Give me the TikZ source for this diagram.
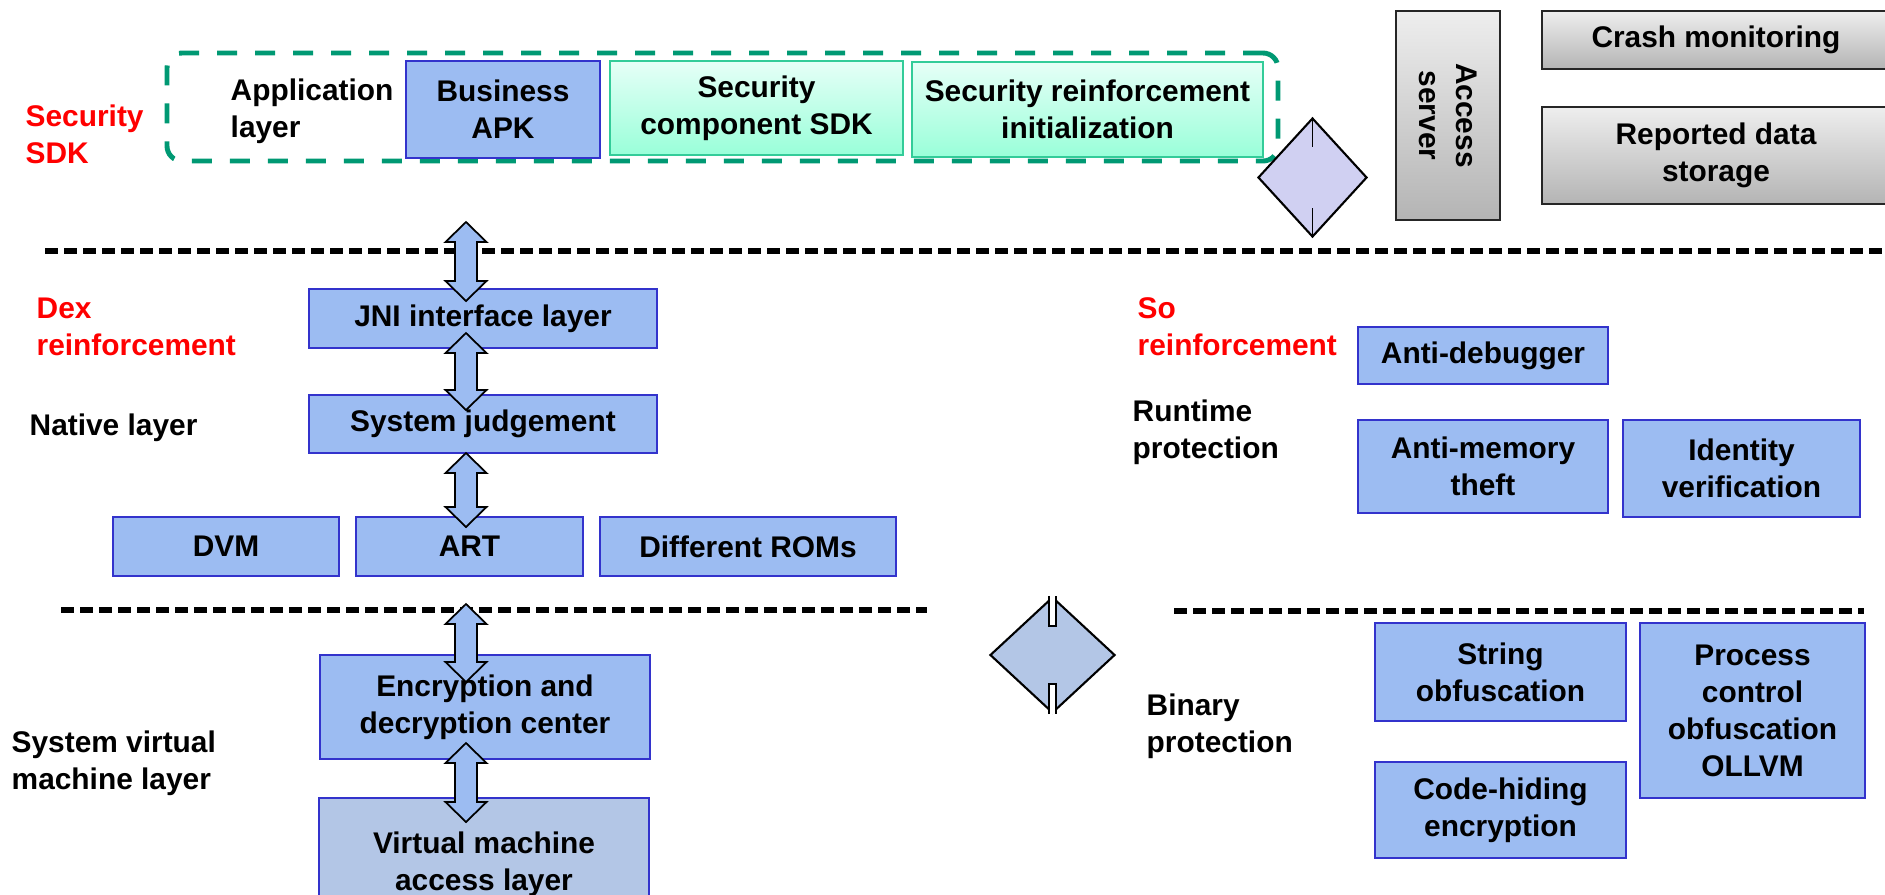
\documentclass[tikz,border=0pt]{standalone}
\usepackage{fontspec}
\setmainfont{Liberation Sans}
\usetikzlibrary{shapes.geometric}

\definecolor{blkfill}{HTML}{9CBCF2}
\definecolor{blkedge}{HTML}{3333CC}
\definecolor{vmfill}{HTML}{B3C6E6}
\definecolor{gatefill}{HTML}{D0D0F2}
\definecolor{grntop}{HTML}{E6FFF7}
\definecolor{grnbot}{HTML}{99FFD9}
\definecolor{grnedge}{HTML}{33CC99}
\definecolor{sdkgreen}{HTML}{009973}
\definecolor{grytop}{HTML}{EEEEEE}
\definecolor{grybot}{HTML}{B4B4B4}
\definecolor{secred}{HTML}{FF0000}

\tikzset{
    txt/.style={font=\fontsize{8.5}{10.5}\selectfont\bfseries, align=left, anchor=west, inner sep=0pt},
    redtxt/.style={txt, text=secred},
    blk/.style={draw=blkedge, fill=blkfill, line width=0.6pt, inner sep=0pt, align=center,
        font=\fontsize{8.5}{10.5}\selectfont\bfseries},
    grn/.style={blk, draw=grnedge, top color=grntop, bottom color=grnbot},
    gry/.style={blk, draw=black!85, top color=grytop, bottom color=grybot},
    sdkframe/.style={draw=sdkgreen, line width=1.4pt, dash pattern=on 0.2cm off 0.18cm,
        rounded corners=0.15cm},
    sep/.style={black, line width=1.6pt, dash pattern=on 0.13cm off 0.06cm},
    blockarr/.style={draw, fill=blkfill, line width=0.5pt, line join=miter},
    gate/.style={diamond, draw, inner sep=0pt, line width=0.6pt}
}

\begin{document}
\begin{tikzpicture}[x=1cm, y=-1cm]
    \useasboundingbox (0,0) rectangle (18.85,8.94);
    % top: application layer and server side
    \path node[sdkframe, minimum width=11.11cm, minimum height=1.08cm] (sdk) at (7.225,1.07) {}
        node[redtxt] (secsdk) at (0.25,1.345) {Security\\SDK}
        node[txt] (applbl) at (2.30,1.115) {Application\\layer}
        node[blk, minimum width=1.94cm, minimum height=0.97cm] (apk) at (5.03,1.095) {Business\\APK}
        node[grn, minimum width=2.93cm, minimum height=0.94cm] (compsdk) at (7.565,1.08) {Security\\component SDK}
        node[grn, minimum width=3.51cm, minimum height=0.95cm] (init) at (10.875,1.095) {Security reinforcement\\initialization}
        node[gate, fill=gatefill, minimum width=1.09cm, minimum height=1.19cm] (topgate) at (13.125,1.775) {}
        node[gry, rotate=-90, minimum width=2.09cm, minimum height=1.04cm] (server) at (14.48,1.155) {Access\\server}
        node[gry, minimum width=3.48cm, minimum height=0.58cm] (crash) at (17.16,0.40) {Crash monitoring}
        node[gry, minimum width=3.48cm, minimum height=0.97cm] (store) at (17.16,1.555) {Reported data\\storage};
    \draw (topgate.north) -- ++(0,0.30);
    \draw (topgate.south) -- ++(0,-0.30);

    \draw[sep] (0.45,2.51) -- (18.85,2.51);

    % dex reinforcement
    \path node[redtxt] (dexlbl) at (0.36,3.27) {Dex\\reinforcement}
        node[txt] (nativelbl) at (0.29,4.28) {Native layer}
        node[blk, minimum width=3.48cm, minimum height=0.59cm] (jni) at (4.83,3.185) {JNI interface layer}
        node[blk, minimum width=3.48cm, minimum height=0.58cm] (judge) at (4.83,4.24) {System judgement}
        node[blk, minimum width=2.26cm, minimum height=0.59cm] (dvm) at (2.26,5.465) {DVM}
        node[blk, minimum width=2.27cm, minimum height=0.59cm] (art) at (4.695,5.465) {ART}
        node[blk, minimum width=2.96cm, minimum height=0.59cm] (roms) at (7.48,5.465) {Different ROMs};

    % so reinforcement
    \path node[redtxt] (solbl) at (11.37,3.265) {So\\reinforcement}
        node[txt] (runlbl) at (11.32,4.325) {Runtime\\protection}
        node[blk, minimum width=2.50cm, minimum height=0.57cm] (antidbg) at (14.83,3.555) {Anti-debugger}
        node[blk, minimum width=2.50cm, minimum height=0.93cm] (antimem) at (14.83,4.665) {Anti-memory\\theft}
        node[blk, minimum width=2.37cm, minimum height=0.97cm] (ident) at (17.415,4.685) {Identity\\verification};

    \draw[sep] (0.61,6.10) -- (9.27,6.10);
    \draw[sep] (11.74,6.11) -- (18.64,6.11);

    % system virtual machine layer
    \path node[txt] (svmlbl) at (0.11,7.635) {System virtual\\machine layer}
        node[blk, minimum width=3.30cm, minimum height=1.04cm] (enc) at (4.85,7.07) {Encryption and\\decryption center}
        node[blk, fill=vmfill, minimum width=3.30cm, minimum height=1.32cm] (vm) at (4.84,8.64) {Virtual machine\\access layer};

    % binary protection
    \path node[gate, fill=vmfill, minimum width=1.25cm, minimum height=1.16cm] (midgate) at (10.525,6.55) {}
        node[txt] (binlbl) at (11.46,7.265) {Binary\\protection}
        node[blk, minimum width=2.51cm, minimum height=0.98cm] (strobf) at (15.005,6.72) {String\\obfuscation}
        node[blk, minimum width=2.51cm, minimum height=0.96cm] (codehide) at (15.005,8.10) {Code-hiding\\encryption}
        node[blk, minimum width=2.25cm, minimum height=1.75cm] (ollvm) at (17.525,7.105) {Process\\control\\obfuscation\\OLLVM};
    \draw[fill=white, line width=0.5pt] ([xshift=-0.35mm]midgate.north) -- ++(0,0.30) -- ++(0.07,0) -- ++(0,-0.30);
    \draw[fill=white, line width=0.5pt] ([xshift=-0.35mm]midgate.south) -- ++(0,-0.30) -- ++(0.07,0) -- ++(0,0.30);

    % two-way arrows between the layers
    \foreach \ya/\yb in {2.22/3.01, 3.33/4.10, 4.53/5.27, 6.04/6.82, 7.43/8.22}
        \draw[blockarr] (4.66,\ya) -- (4.865,{\ya+0.2}) -- (4.77,{\ya+0.2}) -- (4.77,{\yb-0.2})
            -- (4.865,{\yb-0.2}) -- (4.66,\yb) -- (4.455,{\yb-0.2}) -- (4.55,{\yb-0.2})
            -- (4.55,{\ya+0.2}) -- (4.455,{\ya+0.2}) -- cycle;
\end{tikzpicture}
\end{document}
